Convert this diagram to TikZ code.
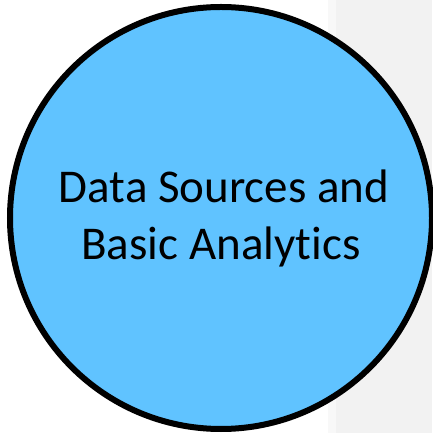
\documentclass[tikz,border=0pt]{standalone}
\usepackage{fontspec}
\setmainfont[Ligatures=NoCommon]{Carlito}
\usetikzlibrary{positioning}
\definecolor{stageblue}{RGB}{96,195,255}
\definecolor{panelgray}{RGB}{242,242,242}
\definecolor{edgegray}{RGB}{248,248,248}
\tikzstyle{stage}=[circle, draw=black, line width=6pt, fill=stageblue, minimum size=422pt, inner sep=0pt, align=center, font=\fontsize{47}{57}\selectfont]
\newcommand{\stage}{\node[stage]}

\begin{document}
\begin{tikzpicture}[x=1pt, y=1pt]
                    \useasboundingbox (0,0) rectangle (432,433);
                    \fill[edgegray] (328,0) rectangle (336,433);
                    \fill[panelgray] (336,0) rectangle (432,433);
                    \stage (sources) at (221,215) {\hspace*{6pt}Data Sources and\\Basic Analytics};
                \end{tikzpicture}
\end{document}
